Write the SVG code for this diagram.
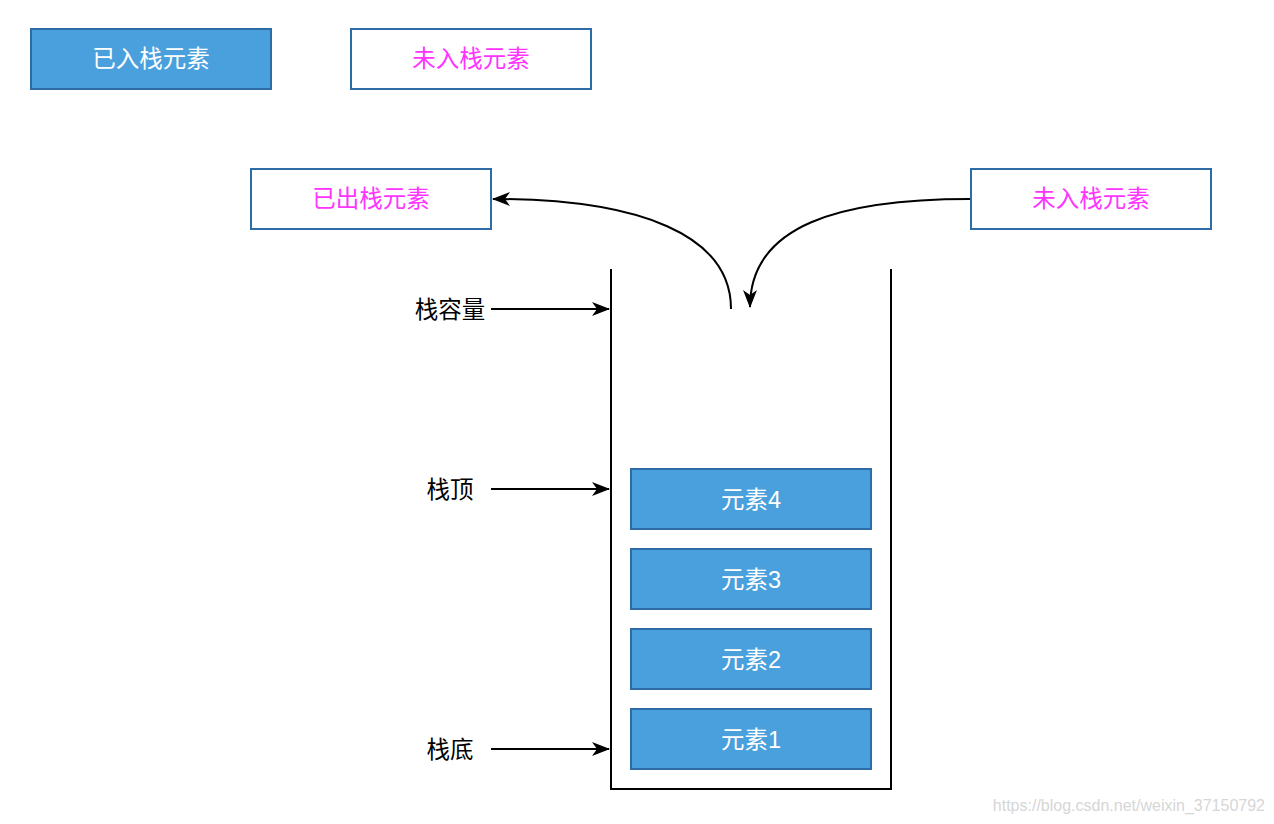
<svg xmlns="http://www.w3.org/2000/svg" width="1274" height="824" viewBox="0 0 1274 824">
<style>
.fill{fill:#4aa0dc;stroke:#2d6ca6;stroke-width:2}
.empty{fill:#fff;stroke:#2d6ca6;stroke-width:2}
text{font-family:"Liberation Sans","Noto Sans CJK SC",sans-serif;font-size:23.5px;text-anchor:middle;dominant-baseline:central}
.wt{fill:#fff}
.mt{fill:#ff33ff}
.bt{fill:#000}
.ln{fill:none;stroke:#000;stroke-width:2}
</style>
<defs>
<marker id="arr" viewBox="0 0 18 14" refX="17" refY="7" markerWidth="18" markerHeight="14" markerUnits="userSpaceOnUse" orient="auto">
<path d="M0,0 L18,7 L0,14 L5,7 Z" fill="#000"/>
</marker>
</defs>
<rect width="1274" height="824" fill="#fff"/>
<g id="legend-pushed"><rect class="fill" x="31" y="29" width="240" height="60"/><text class="wt" x="151" y="59">已入栈元素</text></g>
<g id="legend-unpushed"><rect class="empty" x="351" y="29" width="240" height="60"/><text class="mt" x="471" y="59">未入栈元素</text></g>
<g id="popped"><rect class="empty" x="251" y="169" width="240" height="60"/><text class="mt" x="371" y="199">已出栈元素</text></g>
<g id="incoming"><rect class="empty" x="971" y="169" width="240" height="60"/><text class="mt" x="1091" y="199">未入栈元素</text></g>
<g id="stack"><path class="ln" d="M611,269 V789 H891 V269"/></g>
<g id="el4"><rect class="fill" x="631" y="469" width="240" height="60"/><text class="wt" x="751" y="499.5">元素4</text></g>
<g id="el3"><rect class="fill" x="631" y="549" width="240" height="60"/><text class="wt" x="751" y="579.5">元素3</text></g>
<g id="el2"><rect class="fill" x="631" y="629" width="240" height="60"/><text class="wt" x="751" y="659.5">元素2</text></g>
<g id="el1"><rect class="fill" x="631" y="709" width="240" height="60"/><text class="wt" x="751" y="739.5">元素1</text></g>
<g id="lbl-capacity"><text class="bt" x="450" y="309.5">栈容量</text></g>
<g id="lbl-top"><text class="bt" x="450" y="489.5">栈顶</text></g>
<g id="lbl-bottom"><text class="bt" x="450" y="749.5">栈底</text></g>
<g id="connectors">
<path class="ln" d="M731,309 C731,235 640,199 493,199" marker-end="url(#arr)"/>
<path class="ln" d="M970,199 C840,199 750,225 750,307" marker-end="url(#arr)"/>
<path class="ln" d="M491,309 H609" marker-end="url(#arr)"/>
<path class="ln" d="M491,489 H609" marker-end="url(#arr)"/>
<path class="ln" d="M491,749 H609" marker-end="url(#arr)"/>
</g>
<text x="1265" y="805" style="font-size:16px;text-anchor:end;fill:#d6d6d6">https://blog.csdn.net/weixin_37150792</text>
</svg>
